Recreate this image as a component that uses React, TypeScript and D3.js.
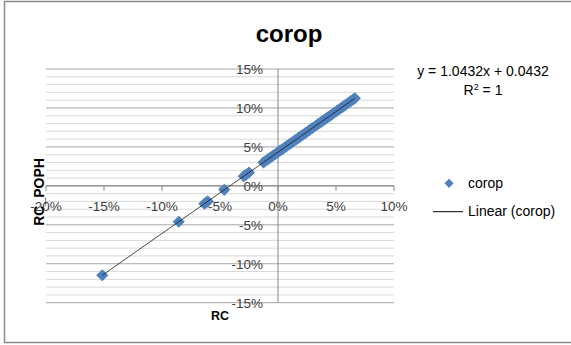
import React from "react";
import * as d3 from "d3";

const title = "corop";
const seriesName = "corop";
const xTitle = "RC";
const yTitle = "RC_POPH";
const equationText = "y = 1.0432x + 0.0432";
const rSquaredValue = "1";
const trendSlope = 1.0432;
const trendIntercept = 4.32; // in percent units

const xValues = [
  -15.15, -8.56, -6.35, -6.2, -6.05, -4.63, -2.95, -2.75, -2.5, -1.25, -1.05, -0.85, -0.65,
  -0.45, -0.25, -0.05, 0.15, 0.35, 0.55, 0.75, 0.95, 1.15, 1.35, 1.55, 1.75, 1.95, 2.15,
  2.35, 2.55, 2.75, 2.95, 3.25, 3.45, 3.65, 3.85, 4.05, 4.25, 4.45, 4.65, 4.85, 5.05, 5.25,
  5.45, 5.65, 5.85, 6.05, 6.25, 6.45, 6.62,
];
const yValues = [
  -11.48, -4.61, -2.3, -2.15, -1.99, -0.51, 1.24, 1.45, 1.71, 3.02, 3.22, 3.43, 3.64,
  3.85, 4.06, 4.27, 4.48, 4.69, 4.89, 5.1, 5.31, 5.52, 5.73, 5.94, 6.15, 6.35, 6.56,
  6.77, 6.98, 7.19, 7.4, 7.71, 7.92, 8.13, 8.34, 8.55, 8.75, 8.96, 9.17, 9.38, 9.59, 9.8,
  10.01, 10.21, 10.42, 10.63, 10.84, 11.05, 11.23,
];
const xTicks = [-20, -15, -10, -5, 0, 5, 10];
const yTicks = [-15, -10, -5, 0, 5, 10, 15];
const yMinorTicks = d3.range(-15, 15.01, 1);

const W = 571;
const H = 345;
const BLUE = "#4F81BD";
const FONT = "'Liberation Sans', Arial, sans-serif";

export default function App() {
  const x = d3.scaleLinear().domain([-20, 10]).range([46, 394]);
  const y = d3.scaleLinear().domain([-15, 15]).range([302.7, 69]);
  const x0 = x(0);
  const y0 = y(0);
  const diamond = d3.symbol().type(d3.symbolSquare).size(74)();
  const legendDiamond = d3.symbol().type(d3.symbolSquare).size(42)();
  const pts = xValues.map((v, i) => ({ x: v, y: yValues[i] }));
  const xMin = d3.min(xValues) as number;
  const xMax = d3.max(xValues) as number;
  const trend = d3
    .line<number>()
    .x((d) => x(d))
    .y((d) => y(trendSlope * d + trendIntercept))([xMin, xMax]);
  const fmt = (v: number) => `${v}%`;

  return (
    <svg
      width={W}
      height={H}
      style={{ position: "absolute", left: 0, top: 0, background: "#fff" }}
      fontFamily={FONT}
    >
      <rect x={4.5} y={1.5} width={620} height={341} fill="#fff" stroke="#8c8c8c" strokeWidth={1.5} />
      <text x={289} y={42} textAnchor="middle" fontSize={24} fontWeight="bold" fill="#000">
        {title}
      </text>
      {yMinorTicks
        .filter((t) => Math.round(t) % 5 !== 0)
        .map((t) => (
          <line key={"m" + t} x1={x(-20)} x2={x(10)} y1={y(t)} y2={y(t)} stroke="#d9d9d9" strokeWidth={1} />
        ))}
      {yTicks.map((t) => (
        <line key={"g" + t} x1={x(-20)} x2={x(10)} y1={y(t)} y2={y(t)} stroke="#a6a6a6" strokeWidth={1} />
      ))}
      <line x1={x0} x2={x0} y1={y(15)} y2={y(-15)} stroke="#868686" strokeWidth={1} />
      <line x1={x(-20)} x2={x(10)} y1={y0} y2={y0} stroke="#868686" strokeWidth={1} />
      {xTicks.map((t) => (
        <line key={"xt" + t} x1={x(t)} x2={x(t)} y1={y0} y2={y0 + 5} stroke="#868686" strokeWidth={1} />
      ))}
      {yTicks.map((t) => (
        <text key={"yl" + t} x={263} y={y(t) + 5} textAnchor="end" fontSize={13.5} fill="#404040">
          {fmt(t)}
        </text>
      ))}
      {xTicks.map((t) => (
        <text key={"xl" + t} x={x(t)} y={211} textAnchor="middle" fontSize={13.5} fill="#404040">
          {fmt(t)}
        </text>
      ))}
      {pts.map((p, i) => (
        <path
          key={"p" + i}
          d={diamond as string}
          transform={`translate(${x(p.x)},${y(p.y)}) rotate(45)`}
          fill={BLUE}
        />
      ))}
      <path d={trend as string} stroke="#1a1a1a" strokeWidth={0.8} fill="none" />
      <text x={220} y={320} textAnchor="middle" fontSize={12.5} fontWeight="bold" fill="#000">
        {xTitle}
      </text>
      <text
        transform={`translate(44,192) rotate(-90)`}
        textAnchor="middle"
        fontSize={14}
        fontWeight="bold"
        fill="#000"
      >
        {yTitle}
      </text>
      <text x={483} y={76} textAnchor="middle" fontSize={14} fill="#000">
        {equationText}
      </text>
      <text x={483} y={95} textAnchor="middle" fontSize={14} fill="#000">
        R<tspan fontSize={9} dy={-5}>2</tspan>
        <tspan dy={5}>{` = ${rSquaredValue}`}</tspan>
      </text>
      <path d={legendDiamond as string} transform="translate(449,183.3) rotate(45)" fill={BLUE} />
      <text x={468} y={188} fontSize={14} fill="#000">
        {seriesName}
      </text>
      <line x1={433} x2={463} y1={211.7} y2={211.7} stroke="#000" strokeWidth={1} />
      <text x={468} y={216} fontSize={14} fill="#000">
        {`Linear (${seriesName})`}
      </text>
    </svg>
  );
}
